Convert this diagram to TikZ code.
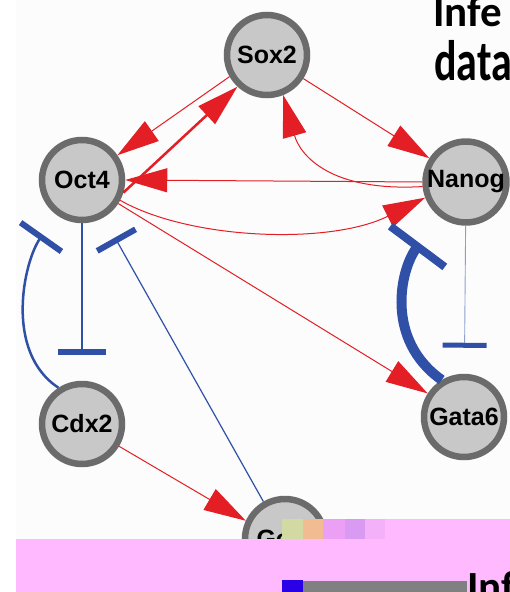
\documentclass[tikz,border=0pt]{standalone}
\usepackage{fontspec}
\setmainfont{Liberation Sans}
\newfontfamily\titlefont{Carlito}
\usetikzlibrary{arrows.meta}
\definecolor{gred}{HTML}{E31E25}
\definecolor{gblue}{HTML}{3050A8}
\definecolor{nodefill}{HTML}{C8C8C8}
\definecolor{noderim}{HTML}{6B6B6B}
\definecolor{slidepink}{HTML}{FFB9FF}
\definecolor{panelbg}{HTML}{FCFCFC}
\definecolor{bandolive}{HTML}{D2D9A2}
\definecolor{bandorange}{HTML}{F2BC92}
\definecolor{bandlilac}{HTML}{EBA0F5}
\definecolor{bandviolet}{HTML}{D99BF2}
\definecolor{bandrose}{HTML}{F5B0FA}
\definecolor{bargray}{HTML}{808080}
\definecolor{barblue}{HTML}{2A00E6}

\begin{document}
\begin{tikzpicture}[x=1pt,y=-1pt,
  gene/.style={circle, draw=noderim, fill=nodefill, line width=6.5pt,
    minimum size=80pt, inner sep=0pt,
    font=\fontsize{25}{25}\selectfont\bfseries},
  act/.style={draw=gred, line width=1pt, -{Triangle[length=42pt,width=24pt]}},
  inh/.style={draw=gblue, line width=2pt, -{Bar[width=48pt,line width=6pt,color=gblue]}},
  titletext/.style={inner sep=0pt, anchor=base west,
    font=\titlefont\fontsize{43}{43}\selectfont\bfseries},
]
\path[use as bounding box, clip] (0,0) rectangle (510,592);
\fill[white] (0,0) rectangle (510,592);
\fill[panelbg] (16,0) rectangle (510,539);

% genes
\node[gene] (sox)   at (267,55)  {Sox2};
\node[gene] (oct)   at (82,180)  {Oct4};
\node[gene] (nanog) at (466,182) {Nanog};
\node[gene] (cdx)   at (82,424)  {Cdx2};
\node[gene] (gata)  at (464,417) {Gata6};
\node[gene] (gcnf)  at (285,539) {Gcnf};

% activations
\draw[act] (sox.210) -- (oct.35);
\draw[act, line width=2.5pt] (oct.-17) -- (sox.227);
\draw[act] (sox.-33) -- (nanog.147);
\draw[act] (nanog.186) .. controls (330,192) and (300,155) .. (sox.-68);
\draw[act] (nanog.180) -- (oct.0);
\draw[act] (oct.-28) .. controls (190,240) and (330,245) .. (nanog.201);
\draw[act] (oct.-33) -- (gata.147);
\draw[act] (cdx.-31) -- (gcnf.155);

% inhibitions
\draw[inh, shorten >=26pt] (oct) -- (cdx);
\draw[inh, line width=2.5pt, shorten >=24pt, -{Bar[width=50pt,line width=6pt,color=gblue]}]
  (cdx.123) .. controls (4,352) and (23.6,261.7) .. (oct.234);
\draw[inh, line width=1.2pt, shorten >=23pt, -{Bar[width=44pt,line width=6pt,color=gblue]}]
  (gcnf.120) -- (oct.-60);
\draw[inh, line width=10pt, shorten >=33pt, -{Bar[width=68pt,line width=8pt,color=gblue]}]
  (gata.121) .. controls (385,340) and (400,270) .. (nanog.233);
\draw[inh, draw=gblue!55, line width=0.9pt, shorten >=26pt, -{Bar[width=44pt,line width=5pt,color=gblue]}]
  (nanog) -- (gata);

% title
\node[titletext] (t1) at (433,26) {Infe};
\node[titletext, font=\titlefont\fontsize{42}{42}\selectfont\bfseries]
  (t2) at (434,80) {\scalebox{1}[1.36]{data}};

% slide band along the bottom
\fill[slidepink] (16,539) rectangle (510,592);
\fill[slidepink] (282,519) rectangle (510,539);
\fill[bandolive] (282,519) rectangle (303,539);
\fill[bandorange] (303,519) rectangle (323,539);
\fill[bandlilac] (323,519) rectangle (345,539);
\fill[bandviolet] (345,519) rectangle (365,539);
\fill[bandrose] (365,519) rectangle (385,539);
\fill[bargray] (303,581) rectangle (467,592);
\fill[barblue] (282,580) rectangle (303,592);
\node[titletext] (t3) at (467,601) {Inf};
\end{tikzpicture}
\end{document}
